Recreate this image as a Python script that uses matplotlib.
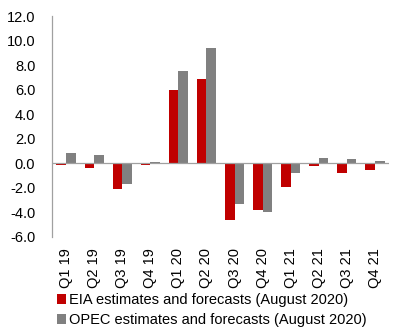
import matplotlib
matplotlib.use("Agg")
import matplotlib.pyplot as plt
import numpy as np

plt.rcParams['font.family'] = ['Liberation Sans', 'DejaVu Sans']

quarters = ["Q1 19", "Q2 19", "Q3 19", "Q4 19", "Q1 20", "Q2 20",
            "Q3 20", "Q4 20", "Q1 21", "Q2 21", "Q3 21", "Q4 21"]
eia = [-0.1, -0.4, -2.1, -0.1, 6.0, 6.9, -4.6, -3.8, -1.9, -0.25, -0.8, -0.55]
opec = [0.85, 0.7, -1.7, 0.1, 7.5, 9.4, -3.3, -4.0, -0.8, 0.4, 0.35, 0.2]
yticks = [-6.0, -4.0, -2.0, 0.0, 2.0, 4.0, 6.0, 8.0, 10.0, 12.0]

red = "#C00000"
grey = "#808080"
fs = 10.5

fig = plt.figure(figsize=(4.10, 3.29), dpi=100)
ax = fig.add_axes([52 / 410, 1 - 237 / 329, (389 - 52) / 410, (237 - 16) / 329])

x = np.arange(len(quarters))
w = 0.34
ax.bar(x - w / 2, eia, width=w, color=red, label="EIA estimates and forecasts (August 2020)")
ax.bar(x + w / 2, opec, width=w, color=grey, label="OPEC estimates and forecasts (August 2020)")

ax.set_xlim(-0.5, len(quarters) - 0.5)
ax.set_ylim(-6, 12)
ax.set_yticks(yticks)
ax.set_yticklabels([f"{v:.1f}" for v in yticks], fontsize=fs)
ax.tick_params(axis="y", length=0, pad=12)

ax.axhline(0, color="#a0a0a0", lw=0.9, zorder=3)
ax.set_xticks(x)
ax.set_xticklabels(quarters, rotation=90, fontsize=fs)
ax.tick_params(axis="x", length=0, pad=8)

for s in ["top", "right", "bottom"]:
    ax.spines[s].set_visible(False)
ax.spines["left"].set_color("#a0a0a0")
ax.spines["left"].set_linewidth(0.9)

fig.legend(loc="upper left", bbox_to_anchor=(57 / 410, 1 - 293 / 329),
           frameon=False, fontsize=fs, handlelength=0.65, handleheight=0.65,
           handletextpad=0.15, labelspacing=0.4, borderpad=0, borderaxespad=0)

fig.savefig("out.png", dpi=100)
